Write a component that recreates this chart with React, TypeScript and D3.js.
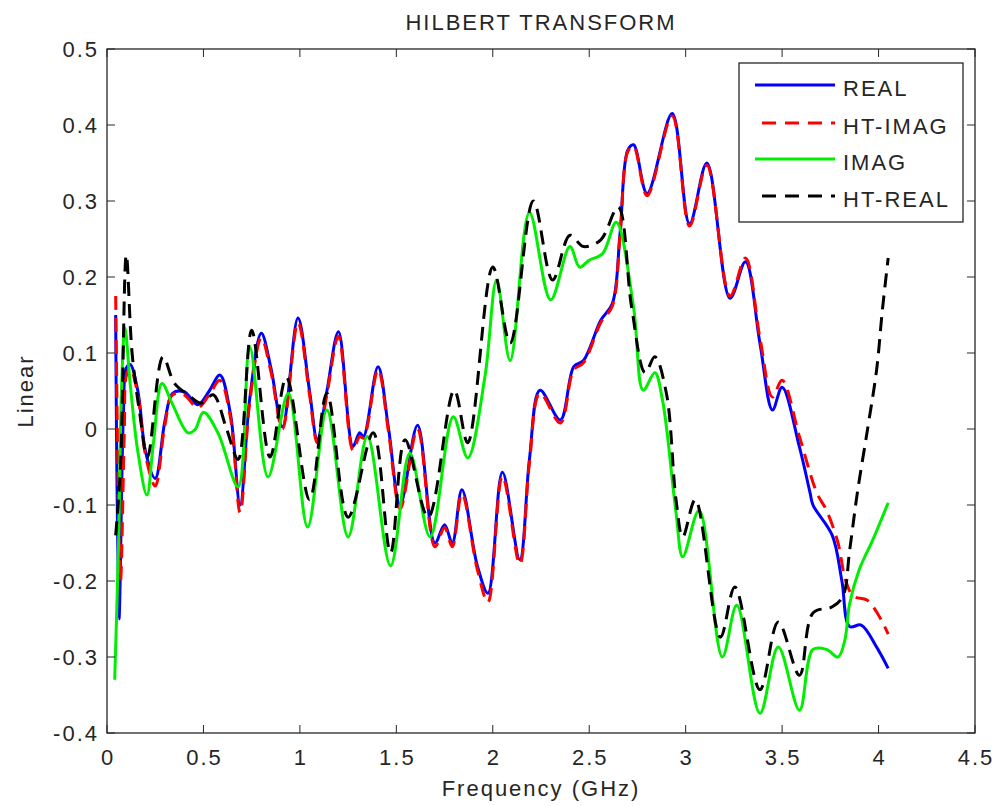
import React, { useEffect, useRef } from 'react';
import * as d3 from 'd3';

// REAL (blue, solid)
const realF = [0.045, 0.062, 0.085, 0.1, 0.12, 0.16, 0.2, 0.25, 0.3, 0.34, 0.4, 0.47, 0.53, 0.585, 0.64, 0.69, 0.74, 0.8, 0.85, 0.91, 0.99, 1.05, 1.09, 1.14, 1.2, 1.275, 1.31, 1.33, 1.405, 1.46, 1.52, 1.61, 1.7, 1.75, 1.79, 1.84, 1.92, 1.975, 2.05, 2.14, 2.19, 2.245, 2.35, 2.42, 2.47, 2.56, 2.62, 2.66, 2.7, 2.73, 2.8, 2.93, 3.02, 3.11, 3.23, 3.31, 3.385, 3.45, 3.5, 3.59, 3.645, 3.66, 3.76, 3.81, 3.85, 3.91, 3.99, 4.05];
const realV = [0.15, -0.25, 0.02, 0.08, 0.085, 0.05, -0.03, -0.065, 0.01, 0.047, 0.049, 0.032, 0.05, 0.071, 0.02, -0.1, 0.04, 0.126, 0.08, 0.003, 0.146, 0.05, -0.014, 0.05, 0.128, -0.023, -0.005, -0.01, 0.082, 0.0, -0.1, 0.005, -0.15, -0.126, -0.15, -0.08, -0.18, -0.216, -0.057, -0.172, -0.04, 0.051, 0.012, 0.082, 0.09, 0.143, 0.165, 0.258, 0.367, 0.374, 0.31, 0.415, 0.27, 0.35, 0.172, 0.22, 0.113, 0.025, 0.055, -0.024, -0.084, -0.1, -0.14, -0.2, -0.26, -0.258, -0.287, -0.315];

// HT-IMAG (red, dashed)
const htImagF = [0.045, 0.07, 0.09, 0.1, 0.12, 0.16, 0.2, 0.25, 0.3, 0.34, 0.4, 0.47, 0.53, 0.585, 0.64, 0.69, 0.74, 0.8, 0.85, 0.91, 0.99, 1.05, 1.09, 1.14, 1.2, 1.275, 1.31, 1.33, 1.405, 1.46, 1.52, 1.61, 1.7, 1.75, 1.79, 1.84, 1.92, 1.975, 2.05, 2.14, 2.19, 2.245, 2.35, 2.42, 2.47, 2.56, 2.62, 2.66, 2.7, 2.73, 2.8, 2.93, 3.02, 3.11, 3.23, 3.31, 3.385, 3.45, 3.5, 3.59, 3.68, 3.73, 3.79, 3.83, 3.87, 3.94, 4.0, 4.05];
const htImagV = [0.175, -0.2, 0.0, 0.07, 0.08, 0.045, -0.035, -0.075, 0.005, 0.045, 0.045, 0.028, 0.045, 0.064, 0.015, -0.11, 0.035, 0.12, 0.075, 0.0, 0.14, 0.045, -0.018, 0.045, 0.122, -0.028, -0.01, -0.012, 0.078, -0.005, -0.105, 0.0, -0.155, -0.13, -0.155, -0.085, -0.185, -0.228, -0.062, -0.178, -0.045, 0.047, 0.008, 0.078, 0.087, 0.14, 0.162, 0.255, 0.365, 0.372, 0.307, 0.412, 0.267, 0.347, 0.175, 0.225, 0.12, 0.042, 0.064, -0.01, -0.084, -0.107, -0.15, -0.2, -0.22, -0.225, -0.245, -0.27];

// IMAG (green, solid)
const imagF = [0.04, 0.06, 0.075, 0.093, 0.12, 0.16, 0.207, 0.24, 0.285, 0.337, 0.42, 0.456, 0.5, 0.575, 0.68, 0.74, 0.835, 0.94, 1.04, 1.14, 1.25, 1.35, 1.47, 1.57, 1.675, 1.795, 1.87, 1.96, 2.02, 2.09, 2.19, 2.3, 2.4, 2.45, 2.5, 2.57, 2.64, 2.73, 2.78, 2.84, 2.88, 2.95, 2.985, 3.07, 3.19, 3.265, 3.385, 3.48, 3.59, 3.66, 3.73, 3.79, 3.825, 3.85, 3.9, 3.97, 4.05];
const imagV = [-0.33, -0.15, 0.05, 0.133, 0.06, -0.03, -0.087, -0.02, 0.06, 0.034, -0.005, -0.001, 0.022, -0.005, -0.076, 0.108, -0.063, 0.047, -0.129, 0.025, -0.142, -0.01, -0.18, -0.032, -0.142, 0.016, -0.038, 0.07, 0.196, 0.09, 0.285, 0.17, 0.24, 0.213, 0.222, 0.231, 0.272, 0.16, 0.051, 0.074, 0.038, -0.11, -0.168, -0.107, -0.3, -0.232, -0.374, -0.287, -0.37, -0.29, -0.29, -0.3, -0.278, -0.23, -0.185, -0.146, -0.097];

// HT-REAL (black, dashed)
const htRealF = [0.045, 0.07, 0.1, 0.13, 0.17, 0.21, 0.29, 0.35, 0.42, 0.49, 0.55, 0.62, 0.68, 0.75, 0.845, 0.93, 1.05, 1.14, 1.25, 1.38, 1.47, 1.545, 1.665, 1.8, 1.87, 2.0, 2.09, 2.21, 2.31, 2.4, 2.47, 2.56, 2.65, 2.72, 2.79, 2.84, 2.9, 2.95, 2.985, 3.05, 3.18, 3.255, 3.385, 3.48, 3.59, 3.66, 3.76, 3.815, 3.85, 3.89, 3.945, 3.99, 4.02, 4.05];
const htRealV = [-0.14, -0.05, 0.229, 0.1, 0.02, -0.037, 0.095, 0.06, 0.045, 0.034, 0.045, 0.0, -0.04, 0.13, -0.037, 0.068, -0.093, 0.047, -0.116, -0.005, -0.163, -0.014, -0.116, 0.051, -0.018, 0.213, 0.113, 0.3, 0.196, 0.255, 0.24, 0.249, 0.292, 0.16, 0.074, 0.095, 0.047, -0.093, -0.142, -0.093, -0.274, -0.208, -0.343, -0.254, -0.324, -0.242, -0.234, -0.22, -0.16, -0.084, 0.003, 0.078, 0.157, 0.225];

const xTicks = [0, 0.5, 1, 1.5, 2, 2.5, 3, 3.5, 4, 4.5];
const yTicks = [-0.4, -0.3, -0.2, -0.1, 0, 0.1, 0.2, 0.3, 0.4, 0.5];

const series = [
  { name: 'REAL', f: realF, v: realV, color: '#0000ff', dash: null },
  { name: 'HT-IMAG', f: htImagF, v: htImagV, color: '#ff0000', dash: '14 8' },
  { name: 'IMAG', f: imagF, v: imagV, color: '#00ee00', dash: null },
  { name: 'HT-REAL', f: htRealF, v: htRealV, color: '#000000', dash: '14 8' },
];

export default function App() {
  const ref = useRef<SVGSVGElement>(null);

  useEffect(() => {
    document.body.style.margin = '0';
    const svg = d3.select(ref.current);
    svg.selectAll('*').remove();

    const width = 995;
    const height = 806;
    const margin = { top: 49, left: 107, bottom: 73, right: 20 };
    const font = 'Liberation Sans, Arial, sans-serif';
    const fs = 22;
    const ls = 2;

    const x = d3.scaleLinear().domain([0, 4.5]).range([margin.left, width - margin.right]);
    const y = d3.scaleLinear().domain([-0.4, 0.5]).range([height - margin.bottom, margin.top]);

    svg.append('rect').attr('width', width).attr('height', height).attr('fill', '#fff');

    // lines
    const lineG = svg.append('g');
    series.forEach((s) => {
      const pts = s.f.map((f, i) => [f, s.v[i]] as [number, number]);
      const line = d3
        .line<[number, number]>()
        .x((d) => x(d[0]))
        .y((d) => y(d[1]))
        .curve(d3.curveCatmullRom.alpha(0.5));
      lineG
        .append('path')
        .attr('d', line(pts))
        .attr('fill', 'none')
        .attr('stroke', s.color)
        .attr('stroke-width', 3)
        .attr('stroke-dasharray', s.dash)
        .attr('stroke-linejoin', 'round');
    });

    // axes box, ticks pointing inward
    const axG = svg.append('g').attr('stroke', '#262626').attr('fill', 'none');
    axG
      .append('rect')
      .attr('x', x(0))
      .attr('y', y(0.5))
      .attr('width', x(4.5) - x(0))
      .attr('height', y(-0.4) - y(0.5))
      .attr('stroke-width', 1.3);
    const tl = 8;
    xTicks.forEach((t) => {
      axG.append('line').attr('x1', x(t)).attr('x2', x(t)).attr('y1', y(-0.4)).attr('y2', y(-0.4) - tl);
      axG.append('line').attr('x1', x(t)).attr('x2', x(t)).attr('y1', y(0.5)).attr('y2', y(0.5) + tl);
    });
    yTicks.forEach((t) => {
      axG.append('line').attr('x1', x(0)).attr('x2', x(0) + tl).attr('y1', y(t)).attr('y2', y(t));
      axG.append('line').attr('x1', x(4.5)).attr('x2', x(4.5) - tl).attr('y1', y(t)).attr('y2', y(t));
    });

    const txt = svg
      .append('g')
      .attr('font-family', font)
      .attr('font-size', fs)
      .attr('letter-spacing', ls)
      .attr('fill', '#262626');
    xTicks.forEach((t) => {
      txt
        .append('text')
        .attr('x', x(t) + ls / 2)
        .attr('y', y(-0.4) + 32)
        .attr('text-anchor', 'middle')
        .text(String(t));
    });
    yTicks.forEach((t) => {
      txt
        .append('text')
        .attr('x', x(0) - 8)
        .attr('y', y(t) + 8)
        .attr('text-anchor', 'end')
        .text(String(t));
    });

    txt
      .append('text')
      .attr('x', (x(0) + x(4.5)) / 2)
      .attr('y', 30)
      .attr('text-anchor', 'middle')
      .text('HILBERT TRANSFORM');
    txt
      .append('text')
      .attr('x', (x(0) + x(4.5)) / 2)
      .attr('y', 796)
      .attr('text-anchor', 'middle')
      .text('Frequency (GHz)');
    txt
      .append('text')
      .attr('transform', `translate(33,${(y(-0.4) + y(0.5)) / 2}) rotate(-90)`)
      .attr('text-anchor', 'middle')
      .text('Linear');

    // legend
    const lg = svg.append('g');
    lg.append('rect')
      .attr('x', 739)
      .attr('y', 63)
      .attr('width', 224)
      .attr('height', 159)
      .attr('fill', '#fff')
      .attr('stroke', '#262626')
      .attr('stroke-width', 1.3);
    const rowsY = [85, 123, 159, 196];
    series.forEach((s, i) => {
      lg.append('line')
        .attr('x1', s.dash ? 762 : 755)
        .attr('x2', 835)
        .attr('y1', rowsY[i])
        .attr('y2', rowsY[i])
        .attr('stroke', s.color)
        .attr('stroke-width', 3)
        .attr('stroke-dasharray', s.dash ? '14 9' : null);
      lg.append('text')
        .attr('x', 843)
        .attr('y', rowsY[i] + 11)
        .attr('font-family', font)
        .attr('font-size', fs)
        .attr('letter-spacing', ls)
        .attr('fill', '#262626')
        .text(s.name);
    });
  }, []);

  return <svg ref={ref} width={995} height={806} style={{ display: 'block' }} />;
}
